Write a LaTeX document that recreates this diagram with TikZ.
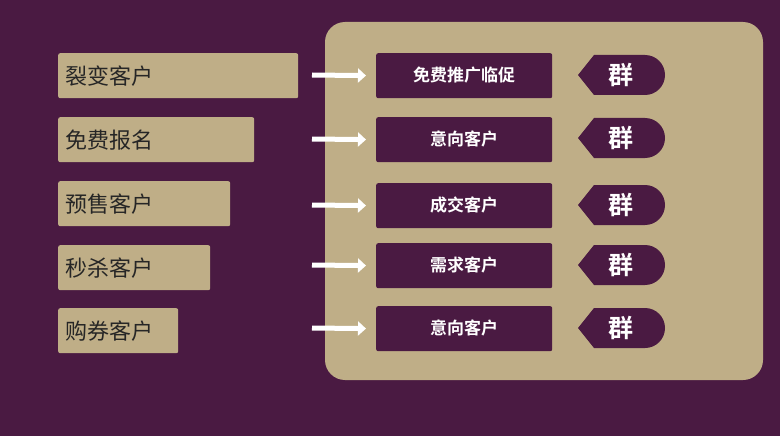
\documentclass[tikz,border=0pt]{standalone}
\usepackage{fontspec}
\newfontfamily\cjk{Noto Sans CJK SC}
\newfontfamily\cjkb{Noto Sans CJK SC Bold}
\usetikzlibrary{arrows.meta}
\definecolor{bg}{HTML}{4A1A42}
\definecolor{sand}{HTML}{BFAE87}
\begin{document}
\begin{tikzpicture}[x=1pt,y=-1pt,
  lbox/.style={fill=sand,rounded corners=2pt,inner sep=0pt,anchor=north west,font=\cjk\fontsize{22}{22}\selectfont,text=black!85,align=left},
  mbox/.style={fill=bg,rounded corners=2pt,minimum width=176pt,minimum height=45pt,inner sep=0pt,anchor=north west,font=\cjkb\fontsize{17}{17}\selectfont,text=white},
  arr/.style={-{Triangle[length=8pt,width=14pt]},line width=5pt,white,shorten >=10pt},
  tagt/.style={text=white,font=\cjkb\fontsize{25}{25}\selectfont,inner sep=0pt}]
\fill[bg] (0,0) rectangle (780,436);
\useasboundingbox (0,0) rectangle (780,436);
\fill[sand,rounded corners=20pt] (325,22) rectangle (763,380);
\foreach \n/\y/\w/\t in {1/53/240/裂变客户,2/117/196/免费报名,3/181/172/预售客户,4/245/152/秒杀客户,5/308/120/购券客户}{
  \node[lbox,minimum width=\w pt,minimum height=45pt,text width=\w pt-14pt,inner xsep=7pt] (l\n) at (58,\y) {\t};
}
\foreach \n/\y/\t in {1/53/免费推广临促,2/117/意向客户,3/183/成交客户,4/243/需求客户,5/306/意向客户}{
  \node[mbox] (m\n) at (376,\y) {\raisebox{3pt}{\t}};
  \coordinate (a\n) at (312,\y+22);
  \draw[arr] (a\n) -- (m\n.west);
}
\foreach \n/\y in {1/75,2/138,3/205,4/265,5/328}{
  \fill[bg] (578,\y) -- (594,\y-20) -- (645,\y-20) arc[start angle=-90,end angle=90,radius=20] -- (594,\y+20) -- cycle;
  \node[tagt] (t\n) at (621,\y) {群};
}
\end{tikzpicture}
\end{document}
